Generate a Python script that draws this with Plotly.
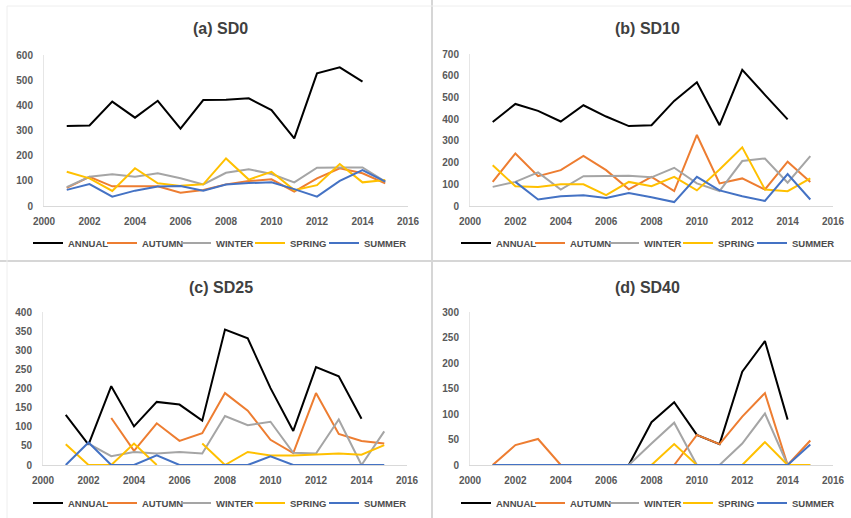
import plotly.graph_objects as go

years = list(range(2001, 2016))

# (a) SD0
a_annual = [318, 320, 415, 351, 418, 307, 421, 422, 428, 381, 269, 527, 551, 494, None]
a_autumn = [72, 116, 78, 78, 78, 53, 64, 86, 99, 106, 57, 110, 150, 130, 90]
a_winter = [75, 116, 126, 116, 130, 110, 86, 132, 146, 127, 94, 152, 153, 153, 97]
a_spring = [136, 110, 60, 150, 90, 80, 86, 189, 105, 136, 63, 83, 167, 94, 103]
a_summer = [64, 87, 37, 61, 77, 79, 61, 85, 91, 94, 67, 37, 100, 143, 97]

# (b) SD10
b_annual = [387, 470, 438, 389, 464, 412, 368, 372, 484, 570, 372, 627, 512, 399, None]
b_autumn = [111, 242, 137, 165, 231, 165, 77, 134, 69, 327, 104, 127, 76, 204, 111]
b_winter = [88, 111, 155, 76, 137, 137, 139, 132, 176, 104, 69, 207, 219, 107, 230]
b_spring = [188, 91, 88, 100, 100, 50, 111, 91, 134, 72, 168, 270, 76, 68, 127]
b_summer = [None, 111, 30, 45, 50, 37, 60, 40, 18, 134, 72, 45, 23, 147, 30]

# (c) SD25
c_annual = [131, 53, 206, 101, 165, 158, 116, 354, 331, 201, 89, 256, 232, 121, None]
c_autumn = [None, None, 123, 37, 109, 63, 83, 188, 142, 66, 31, 188, 81, 63, 56]
c_winter = [None, 56, 23, 34, 30, 34, 30, 128, 104, 113, 32, 30, 119, 0, 88]
c_spring = [54, 0, 0, 56, 0, None, 56, 0, 34, 25, 25, 28, 30, 27, 52]
c_summer = [0, 59, 0, 0, 25, 0, 0, 0, 0, 23, 0, 0, 0, 0, 0]

# (d) SD40
d_annual = [None, None, None, None, None, None, 0, 84, 123, 59, 41, 183, 243, 89, None]
d_autumn = [0, 39, 51, 0, 0, 0, 0, 0, 0, 59, 41, 95, 141, 0, 48]
d_winter = [0, 0, 0, 0, 0, 0, 0, 42, 83, 0, 0, 42, 101, 0, 0]
d_spring = [0, 0, 0, 0, 0, 0, 0, 0, 41, 0, 0, 0, 45, 0, 0]
d_summer = [0, 0, 0, 0, 0, 0, 0, 0, 0, 0, 0, 0, 0, 0, 40]

series_names = ["ANNUAL", "AUTUMN", "WINTER", "SPRING", "SUMMER"]
colors = ["#000000", "#ED7D31", "#A5A5A5", "#FFC000", "#4472C4"]

x_ticks = list(range(2000, 2017, 2))

panels = [
    ("(a) SD0", [a_annual, a_autumn, a_winter, a_spring, a_summer], 600, 100),
    ("(b) SD10", [b_annual, b_autumn, b_winter, b_spring, b_summer], 700, 100),
    ("(c) SD25", [c_annual, c_autumn, c_winter, c_spring, c_summer], 400, 50),
    ("(d) SD40", [d_annual, d_autumn, d_winter, d_spring, d_summer], 300, 50),
]

W, H = 851, 518
boxes = [
    (44, 408, 206, 55),
    (470, 833, 206, 54),
    (43, 407, 465, 312),
    (470, 833, 465, 312),
]
title_pos = [(221, 28), (647, 28), (221, 287), (647, 287)]
legend_pos = [(28, 243), (456, 243), (28, 503), (456, 503)]

FONT = "Liberation Sans, Arial, sans-serif"
fig = go.Figure()
tick_font = dict(family=FONT, size=10, color="#595959")

for i, (title, data, ymax, dy) in enumerate(panels):
    n = "" if i == 0 else str(i + 1)
    leg = "legend" if i == 0 else f"legend{i+1}"
    for name, vals, col in zip(series_names, data, colors):
        fig.add_trace(go.Scatter(
            x=years, y=vals, mode="lines", name="<b>" + name + "</b>",
            line=dict(color=col, width=2),
            xaxis="x" + n, yaxis="y" + n, legend=leg,
        ))
    # empty spacer entry so the last legend label is not clipped
    fig.add_trace(go.Scatter(
        x=[None], y=[None], mode="lines", name=" ", line=dict(width=0, color="rgba(0,0,0,0)"),
        xaxis="x" + n, yaxis="y" + n, legend=leg, hoverinfo="skip",
    ))
    y_ticks = list(range(0, ymax + 1, dy))
    x0, x1, yb, yt = boxes[i]
    fig.update_layout(**{
        "xaxis" + n: dict(
            domain=[x0 / W, x1 / W], range=[2000, 2016],
            tickvals=x_ticks, ticktext=["<b>%d</b>" % v for v in x_ticks],
            showgrid=False, zeroline=False, showline=True, linecolor="#D9D9D9",
            linewidth=1, ticks="", tickfont=tick_font, ticklabelstandoff=6,
            anchor="y" + n, fixedrange=True,
        ),
        "yaxis" + n: dict(
            domain=[1 - yb / H, 1 - yt / H], range=[0, ymax],
            tickvals=y_ticks, ticktext=["<b>%d</b>" % v for v in y_ticks],
            showgrid=False, zeroline=False, showline=True, linecolor="#E6E6E6",
            linewidth=1, ticks="", tickfont=tick_font, ticklabelstandoff=8,
            anchor="x" + n, fixedrange=True,
        ),
        leg: dict(
            orientation="h", x=legend_pos[i][0] / W, y=1 - legend_pos[i][1] / H,
            xanchor="left", yanchor="middle", bgcolor="rgba(0,0,0,0)",
            font=dict(family=FONT, size=9.5, color="#4D4D4D"),
            entrywidth=29, entrywidthmode="pixels", tracegroupgap=0,
        ),
    })
    fig.add_annotation(
        text="<b>" + title + "</b>", x=title_pos[i][0] / W, y=1 - title_pos[i][1] / H,
        xref="paper", yref="paper", showarrow=False, xanchor="center", yanchor="middle",
        font=dict(family=FONT, size=16, color="#404040"),
    )

line_style = dict(color="#D6D6D6", width=2)
fig.add_shape(type="line", xref="paper", yref="paper", x0=432 / W, x1=432 / W, y0=0, y1=1, line=line_style)
fig.add_shape(type="line", xref="paper", yref="paper", x0=0, x1=1, y0=1 - 261 / H, y1=1 - 261 / H, line=line_style)
fig.add_shape(type="line", xref="paper", yref="paper", x0=7 / W, x1=7 / W, y0=0, y1=1 - 6 / H,
              line=dict(color="#EEEEEE", width=1))
fig.add_shape(type="line", xref="paper", yref="paper", x0=7 / W, x1=1, y0=1 - 6 / H, y1=1 - 6 / H,
              line=dict(color="#EEEEEE", width=1))

fig.update_layout(
    width=W, height=H, margin=dict(l=0, r=0, t=0, b=0, autoexpand=False),
    paper_bgcolor="white", plot_bgcolor="white", showlegend=True,
)

fig.write_html("out.html", config={"displayModeBar": False},
               post_script="document.body.style.margin='0';")
